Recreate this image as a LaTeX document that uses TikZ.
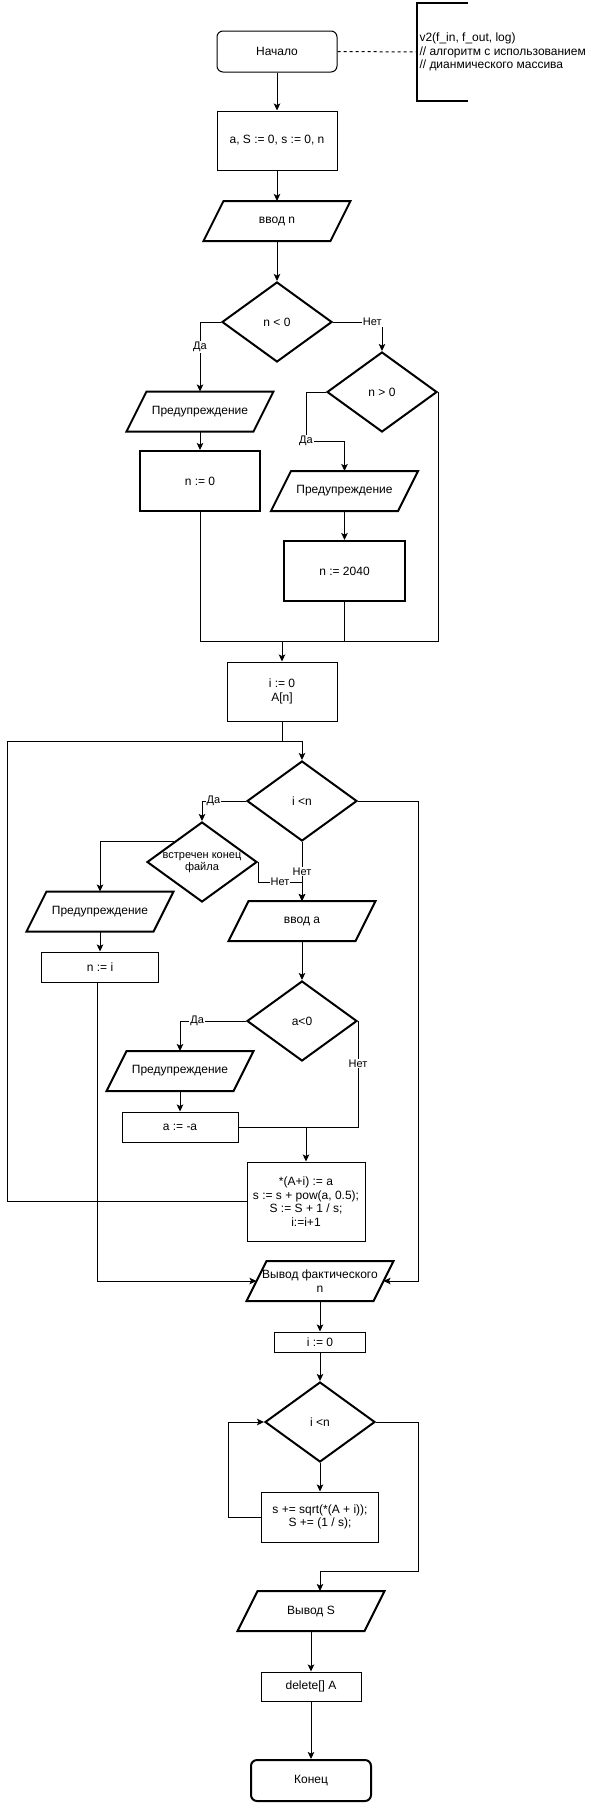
\documentclass[tikz,border=0pt]{standalone}
\usepackage{fontspec}
\setmainfont{Liberation Sans}
\usetikzlibrary{arrows.meta, shapes.geometric, calc}
\tikzset{
	base/.style={align=center, inner sep=0pt, font=\fontsize{12}{13.5}\selectfont},
	heavy/.style={line width=2pt},
	term/.style={base, draw, line width=1pt, rounded corners=6pt, minimum width=120pt, minimum height=41pt},
	proc/.style={base, draw, line width=1pt},
	dec/.style={base, draw, heavy, diamond, aspect=1.375, minimum width=110pt, minimum height=80pt},
	io/.style={base, outer sep=0pt, minimum width=127pt, minimum height=40pt},
	lbl/.style={fill=white, inner sep=1pt, font=\fontsize{11}{12}\selectfont},
	arr/.style={-{Stealth[length=7pt, width=6.5pt, inset=1.5pt]}},
	every path/.style={line width=1pt}
}

\begin{document}
\begin{tikzpicture}[x=1pt, y=-1pt]
	\useasboundingbox (0,0) rectangle (590,1812);
	
	\node[term] (start) at (277,51.5) {Начало};
	\draw[heavy] (468,3) -- (417,3) -- (417,101) -- (468,101);
	\coordinate (noteL) at (417,52);
	\node[base, anchor=west, align=left] (note) at (419,52) {v2(f\_in, f\_out, log)\\// алгоритм с использованием\\// дианмического массива};
	\draw[dash pattern=on 3pt off 3pt] (start.east) -- (noteL);
	
	\node[proc, minimum width=120pt, minimum height=59pt] (init) at (277,140.5) {a, S := 0, s := 0, n};
	\node[io] (inN) at (277,221) {ввод n};
	\node[dec] (d1) at (277,322) {n < 0};
	\node[dec] (d2) at (382,392) {n > 0};
	\node[io] (warn1) at (200,411.5) {Предупреждение};
	\node[proc, heavy, minimum width=120pt, minimum height=60pt] (zero) at (200,481) {n := 0};
	\node[io] (warn2) at (344.5,491) {Предупреждение};
	\node[proc, heavy, minimum width=121pt, minimum height=60pt] (cap) at (344.5,571) {n := 2040};
	\node[proc, minimum width=110pt, minimum height=59pt] (alloc) at (282,691.5) {i := 0\\A[n]};
	
	\node[dec] (d3) at (302,801) {i <n};
	\node[dec, font=\fontsize{11}{12.5}\selectfont] (d4) at (202,862) {\makebox[0pt]{\begin{tabular}{@{}c@{}}встречен конец\\файла\end{tabular}}};
	\node[io] (warn3) at (100,911.5) {Предупреждение};
	\node[proc, minimum width=117pt, minimum height=30pt] (setn) at (100,967) {n := i};
	\node[io] (inA) at (302,921) {ввод a};
	\node[dec] (d5) at (302,1021) {a<0};
	\node[io] (warn4) at (180,1071) {Предупреждение};
	\node[proc, minimum width=116pt, minimum height=30pt] (neg) at (180,1127) {a := -a};
	\node[proc, minimum width=118pt, minimum height=79pt] (body) at (306,1201.5) {*(A+i) := a\\s := s + pow(a, 0.5);\\S := S + 1 / s;\\i:=i+1};
	
	\node[io] (outN) at (320,1281) {Вывод фактического\\n};
	\node[proc, minimum width=91pt, minimum height=20pt] (i0) at (320,1342) {i := 0};
	\node[dec] (d6) at (320,1422) {i <n};
	\node[proc, minimum width=117pt, minimum height=50pt] (sum) at (320,1517) {s += sqrt(*(A + i));\\S += (1 / s);};
	\node[io] (outS) at (311,1611) {Вывод S};
	\node[proc, minimum width=100pt, minimum height=29pt] (del) at (311,1686.5) {delete[] A};
	\node[term, heavy] (stop) at (311,1780.5) {Конец};
	
	\foreach \n in {inN, warn1, warn2, warn3, inA, warn4, outN, outS}
		\draw[heavy] ([xshift=-10pt]\n.south west) -- ([xshift=-10pt]\n.south east) -- ([xshift=10pt]\n.north east) -- ([xshift=10pt]\n.north west) -- cycle;
	
	\draw[arr] (start) -- (init);
	\draw[arr] (init) -- (inN);
	\draw[arr] (inN) -- (d1);
	\draw[arr] (d1.west) -| node[lbl, pos=0.68] {Да} (warn1.north);
	\draw[arr] (d1.east) -| node[lbl, pos=0.4] {Нет} (d2.north);
	\draw[arr] (d2.west) -| (306,441) node[lbl] {Да} -| (warn2.north);
	\draw[arr] (warn1) -- (zero);
	\draw[arr] (warn2) -- (cap);
	
	\coordinate (j) at (282,641);
	\draw (zero.south) |- (d2.east |- j) -- (d2.east);
	\draw (cap.south) -- (cap.south |- j);
	\draw[arr] (j) -- (alloc.north);
	
	\coordinate (lp) at (302,741);
	\draw (alloc.south) |- (lp);
	\draw (body.west) -- (7,1201.5) |- (lp);
	\draw[arr] (lp) -- (d3.north);
	\draw[arr] (d3.west) -| node[lbl, pos=0.37] {Да} (d4.north);
	\draw[arr] (d3.south) -- node[lbl] {Нет} (inA.north);
	\draw[arr] (d4.east) -- ++(0,20) -| node[lbl, pos=0.25] {Нет} (inA.north);
	\draw[arr] (d4.north west) -| (warn3.north);
	\draw[arr] (warn3) -- (setn);
	\draw[arr] ([xshift=-3pt]setn.south) |- (outN.west);
	\draw[arr] (inA) -- (d5);
	\draw[arr] (d5.west) -| node[lbl, pos=0.37] {Да} (warn4.north);
	\draw[arr] (warn4) -- (neg);
	\coordinate (mj) at (306,1127);
	\draw (d5.east) |- node[lbl, pos=0.2] {Нет} (mj);
	\draw (neg.east) -- (mj);
	\draw[arr] (mj) -- (body.north);
	\draw[arr] (d3.east) -- (418,801) |- (outN.east);
	
	\draw[arr] (outN) -- (i0);
	\draw[arr] (i0) -- (d6);
	\draw[arr] (d6) -- (sum);
	\draw[arr] (sum.west) -- ++(-33,0) |- (d6.west);
	\draw[arr] (d6.east) -| (418,1571) -| ([xshift=9pt]outS.north);
	\draw[arr] (outS) -- (del);
	\draw[arr] (del) -- (stop);
\end{tikzpicture}
\end{document}
